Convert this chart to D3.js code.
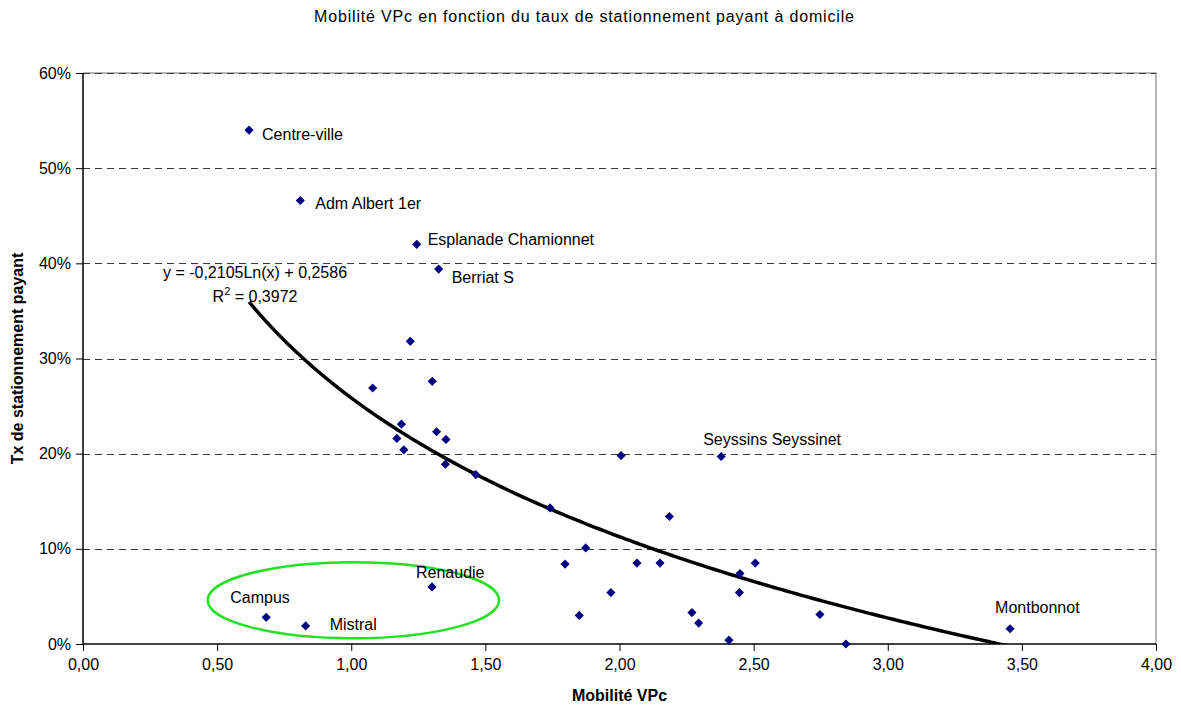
<!DOCTYPE html>
<html>
<head>
<meta charset="utf-8">
<script src="https://cdn.jsdelivr.net/npm/d3@7"></script>
<style>
  html, body { margin: 0; padding: 0; background: #fff; }
  svg { display: block; font-family: "Liberation Sans", Arial, sans-serif; }
</style>
</head>
<body>
<svg id="chart" width="1181" height="706"></svg>
<script>
// ---------- DATA ----------
const titleText = "Mobilité VPc en fonction du taux de stationnement payant à domicile";
const xAxisTitle = "Mobilité VPc";
const yAxisTitle = "Tx de stationnement payant";

const xTicks = [0, 0.5, 1, 1.5, 2, 2.5, 3, 3.5, 4];
const yTicks = [0, 0.1, 0.2, 0.3, 0.4, 0.5, 0.6];

// Mobilité VPc (x) and taux de stationnement payant (y)
const mobilite = [0.619, 0.810, 1.244, 1.326, 1.220, 1.080, 1.302, 1.187, 1.170, 1.196,
                  1.318, 1.353, 1.351, 1.464, 1.741, 2.006, 2.379, 2.186, 1.874, 1.797,
                  2.065, 2.151, 2.449, 2.506, 1.968, 2.447, 1.850, 2.270, 2.295, 2.408,
                  2.747, 2.844, 3.456, 1.301, 0.683, 0.830];
const tauxPayant = [0.540, 0.466, 0.420, 0.394, 0.318, 0.269, 0.276, 0.231, 0.216, 0.204,
                    0.223, 0.215, 0.189, 0.178, 0.143, 0.198, 0.197, 0.134, 0.101, 0.084,
                    0.085, 0.085, 0.074, 0.085, 0.054, 0.054, 0.030, 0.033, 0.022, 0.004,
                    0.031, 0.000, 0.016, 0.060, 0.028, 0.019];
const pointNames = ["Centre-ville", "Adm Albert 1er", "Esplanade Chamionnet", "Berriat S", "", "", "", "", "", "",
                    "", "", "", "", "", "", "Seyssins Seyssinet", "", "", "",
                    "", "", "", "", "", "", "", "", "", "",
                    "", "", "Montbonnot", "Renaudie", "Campus", "Mistral"];

// Logarithmic trend line: y = a*ln(x) + b
const trendA = -0.2105;
const trendB = 0.2586;
const trendEquation = ["y = -0,2105Ln(x) + 0,2586", "R", "2", " = 0,3972"];

// Highlight ellipse (data units): centre x, centre y, radius x, radius y
const ellipseCx = 1.008, ellipseCy = 0.046, ellipseRx = 0.543, ellipseRy = 0.040;

// ---------- LAYOUT ----------
const svg = d3.select("#chart");
const mLeft = 83, mRight = 1156, mTop = 73, mBottom = 644;
const fontSize = 16;

const x = d3.scaleLinear().domain([0, 4]).range([mLeft, mRight]);
const y = d3.scaleLinear().domain([0, 0.6]).range([mBottom, mTop]);

const fmtX = v => d3.format(".2f")(v).replace(".", ",");
const fmtY = d3.format(".0%");

// plot border (top / right, gray)
svg.append("path")
  .attr("d", `M${mLeft},${mTop}H${mRight}V${mBottom}`)
  .attr("fill", "none").attr("stroke", "#a0a0a0").attr("stroke-width", 1.5);

// gridlines
svg.append("g").selectAll("line")
  .data(yTicks.filter(d => d > 0))
  .join("line")
  .attr("x1", mLeft).attr("x2", mRight)
  .attr("y1", d => Math.round(y(d)) + 0.5).attr("y2", d => Math.round(y(d)) + 0.5)
  .attr("stroke", "#3a3a3a").attr("stroke-width", 1)
  .attr("stroke-dasharray", "7,5");

// axes
const xAxis = d3.axisBottom(x).tickValues(xTicks).tickFormat(fmtX).tickSize(7).tickPadding(8);
const yAxis = d3.axisLeft(y).tickValues(yTicks).tickFormat(fmtY).tickSize(7).tickPadding(5);

const gx = svg.append("g").attr("transform", `translate(0,${mBottom})`).call(xAxis);
const gy = svg.append("g").attr("transform", `translate(${mLeft},0)`).call(yAxis);
[gx, gy].forEach(g => {
  g.select(".domain").attr("stroke", "#000").attr("stroke-width", 1.5);
  g.selectAll(".tick line").attr("stroke", "#000").attr("stroke-width", 1);
  g.selectAll(".tick text").attr("fill", "#000")
    .attr("font-size", fontSize).attr("font-family", "Liberation Sans, Arial, sans-serif");
});
gx.select(".domain").attr("d", `M${mLeft},0H${mRight}`);
gy.select(".domain").attr("d", `M0,${mBottom}V${mTop}`);

// clip for plot area
svg.append("clipPath").attr("id", "plotClip")
  .append("rect").attr("x", mLeft).attr("y", mTop).attr("width", mRight - mLeft).attr("height", mBottom - mTop);

// trend line
const xMin = d3.min(mobilite), xMax = d3.max(mobilite);
const trendData = d3.range(0, 201).map(i => {
  const xv = xMin + (xMax - xMin) * i / 200;
  return [xv, trendA * Math.log(xv) + trendB];
});
svg.append("path")
  .datum(trendData)
  .attr("clip-path", "url(#plotClip)")
  .attr("d", d3.line().x(d => x(d[0])).y(d => y(d[1])))
  .attr("fill", "none").attr("stroke", "#000").attr("stroke-width", 3.5);

// ellipse highlight
svg.append("ellipse")
  .attr("cx", x(ellipseCx)).attr("cy", y(ellipseCy))
  .attr("rx", x(ellipseCx + ellipseRx) - x(ellipseCx))
  .attr("ry", y(ellipseCy) - y(ellipseCy + ellipseRy))
  .attr("fill", "none").attr("stroke", "#22e022").attr("stroke-width", 2.5);

// points
const points = mobilite.map((m, i) => ({ x: m, y: tauxPayant[i], name: pointNames[i] }));
svg.append("g").selectAll("path")
  .data(points)
  .join("path")
  .attr("transform", d => `translate(${x(d.x)},${y(d.y)}) rotate(45)`)
  .attr("d", d3.symbol().type(d3.symbolSquare).size(42))
  .attr("fill", "#000080");

// point labels (offsets in px from marker)
const labelOffsets = {
  "Centre-ville": [13, 10],
  "Adm Albert 1er": [15, 8],
  "Esplanade Chamionnet": [11, 1],
  "Berriat S": [13, 14],
  "Seyssins Seyssinet": [-18, -12],
  "Montbonnot": [-15, -16],
  "Renaudie": [-16, -9],
  "Campus": [-36, -14],
  "Mistral": [24, 4]
};
svg.append("g").selectAll("text")
  .data(points.filter(d => d.name))
  .join("text")
  .attr("x", d => x(d.x) + labelOffsets[d.name][0])
  .attr("y", d => y(d.y) + labelOffsets[d.name][1])
  .attr("font-size", fontSize).attr("fill", "#000")
  .text(d => d.name);

// trend equation
const eq = svg.append("text").attr("text-anchor", "middle").attr("font-size", fontSize).attr("fill", "#000");
eq.append("tspan").attr("x", 255).attr("y", 278).text(trendEquation[0]);
const eq2 = svg.append("text").attr("text-anchor", "middle").attr("font-size", fontSize).attr("fill", "#000")
  .attr("x", 255).attr("y", 302);
eq2.append("tspan").text(trendEquation[1]);
eq2.append("tspan").attr("font-size", 11).attr("dy", -7).text(trendEquation[2]);
eq2.append("tspan").attr("dy", 7).text(trendEquation[3]);

// title
svg.append("text")
  .attr("x", 584).attr("y", 22)
  .attr("text-anchor", "middle").attr("font-size", 16).attr("fill", "#000")
  .attr("textLength", 540).attr("lengthAdjust", "spacing")
  .text(titleText);

// axis titles
svg.append("text")
  .attr("x", (mLeft + mRight) / 2).attr("y", 701)
  .attr("text-anchor", "middle").attr("font-size", fontSize).attr("font-weight", "bold")
  .text(xAxisTitle);
svg.append("text")
  .attr("transform", `translate(23,${(mTop + mBottom) / 2}) rotate(-90)`)
  .attr("text-anchor", "middle").attr("font-size", fontSize).attr("font-weight", "bold")
  .text(yAxisTitle);
</script>
</body>
</html>
